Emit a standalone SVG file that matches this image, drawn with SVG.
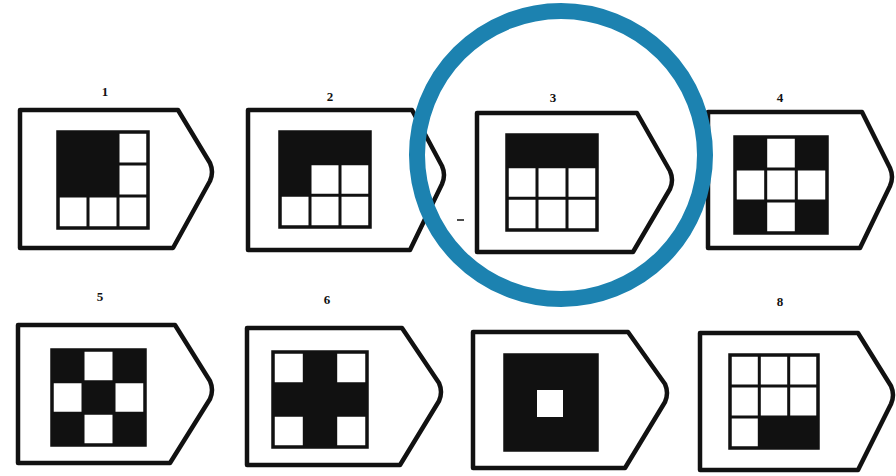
<svg xmlns="http://www.w3.org/2000/svg" width="896" height="476" viewBox="0 0 896 476">
<style>
.frame{fill:#fff;stroke:#111;stroke-width:4.5;stroke-linejoin:round}
.grid{fill:#fff;stroke:#111;stroke-width:3.5}
.gl{stroke:#111;stroke-width:3;fill:none}
.b{fill:#111}
.lbl{font-family:"Liberation Serif",serif;font-weight:bold;font-size:13px;fill:#111;text-anchor:middle}
.ring{fill:none;stroke:#1c82b0;stroke-width:16}
</style>
<rect width="896" height="476" fill="#fff"/>

<g id="node1">
<text class="lbl" x="105" y="96">1</text>
<path class="frame" d="M20,110 L178,110 L210,163 Q214,172 210,181 L173,248 L20,248 Z"/>
<rect class="grid" x="58" y="132" width="90" height="96"/>
<path class="gl" d="M88,132V228M118,132V228M58,164H148M58,196H148"/>
<rect class="b" x="58" y="132" width="60" height="64"/>
</g>

<g id="node2">
<text class="lbl" x="330" y="101">2</text>
<path class="frame" d="M248,110 L412,110 L442,166 Q446,175 442,184 L410,250 L248,250 Z"/>
<rect class="grid" x="280" y="132" width="90" height="95"/>
<path class="gl" d="M310,132V227M340,132V227M280,163.7H370M280,195.3H370"/>
<path class="b" d="M280,132H370V163.7H310V195.3H280Z"/>
</g>

<g id="node3">
<text class="lbl" x="553" y="102">3</text>
<path class="frame" d="M477,113 L637,113 L670,171 Q674,180 670,189 L633,252 L477,252 Z"/>
<rect class="grid" x="507" y="135" width="90" height="95"/>
<path class="gl" d="M537,135V230M567,135V230M507,166.7H597M507,198.3H597"/>
<rect class="b" x="507" y="135" width="90" height="31.7"/>
<line x1="457" y1="220" x2="464" y2="220" stroke="#111" stroke-width="1.5"/>
</g>

<g id="node4">
<text class="lbl" x="780" y="102">4</text>
<path class="frame" d="M708,112 L862,112 L890,168 Q894,177 890,186 L860,248 L708,248 Z"/>
<rect class="grid" x="735" y="137" width="92" height="96"/>
<path class="gl" d="M765.7,137V233M796.3,137V233M735,169H827M735,201H827"/>
<rect class="b" x="735" y="137" width="30.7" height="32"/>
<rect class="b" x="796.3" y="137" width="30.7" height="32"/>
<rect class="b" x="735" y="201" width="30.7" height="32"/>
<rect class="b" x="796.3" y="201" width="30.7" height="32"/>
</g>

<g id="node5">
<text class="lbl" x="100" y="301">5</text>
<path class="frame" d="M18,325 L175,325 L210,381 Q214,390 210,399 L170,463 L18,463 Z"/>
<rect class="grid" x="52" y="350" width="93" height="95"/>
<path class="gl" d="M83,350V445M114,350V445M52,381.7H145M52,413.3H145"/>
<rect class="b" x="52" y="350" width="31" height="31.7"/>
<rect class="b" x="114" y="350" width="31" height="31.7"/>
<rect class="b" x="83" y="381.7" width="31" height="31.6"/>
<rect class="b" x="52" y="413.3" width="31" height="31.7"/>
<rect class="b" x="114" y="413.3" width="31" height="31.7"/>
</g>

<g id="node6">
<text class="lbl" x="327" y="304">6</text>
<path class="frame" d="M247,328 L402,328 L439,383 Q443,392 439,401 L400,465 L247,465 Z"/>
<rect class="grid" x="273" y="352" width="94" height="95"/>
<path class="gl" d="M304.3,352V447M335.7,352V447M273,383.7H367M273,415.3H367"/>
<path class="b" d="M304.3,352H335.7V383.7H367V415.3H335.7V447H304.3V415.3H273V383.7H304.3Z"/>
</g>

<g id="node7">
<path class="frame" d="M473,332 L628,332 L665,384 Q669,393 665,402 L625,468 L473,468 Z"/>
<rect class="grid" x="505" y="355" width="92" height="95"/>
<rect class="b" x="505" y="355" width="92" height="95"/>
<rect x="537" y="390" width="26" height="27" fill="#fff"/>
</g>

<g id="node8">
<text class="lbl" x="780" y="306">8</text>
<path class="frame" d="M700,333 L858,333 L891,386 Q895,395 891,404 L858,470 L700,470 Z"/>
<rect class="grid" x="730" y="355" width="88" height="93"/>
<path class="gl" d="M759.3,355V448M788.7,355V448M730,386H818M730,417H818"/>
<rect class="b" x="759.3" y="417" width="58.7" height="31"/>
</g>

<g id="highlight">
<circle class="ring" cx="561" cy="155" r="144"/>
</g>
</svg>
